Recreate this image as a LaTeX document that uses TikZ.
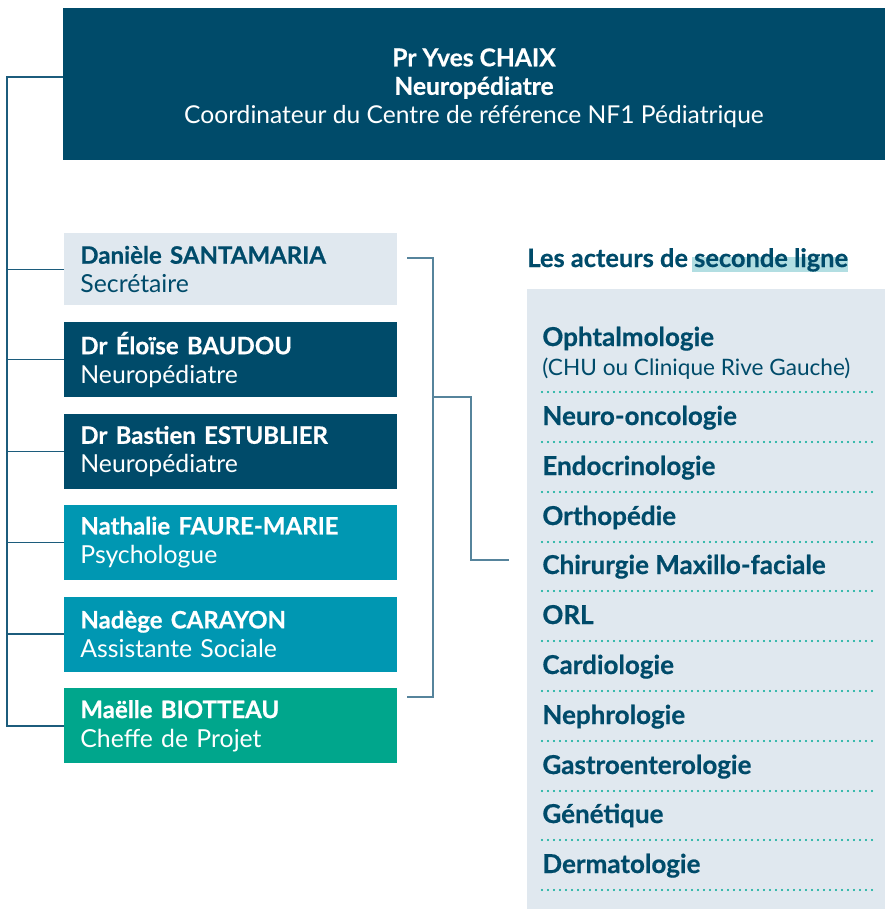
\documentclass[tikz,border=0pt]{standalone}
\usepackage{fontspec}
\setmainfont{Lato}[BoldFeatures={FakeBold=0.6}]
\usetikzlibrary{positioning}

\definecolor{navy}{RGB}{0,75,106}
\definecolor{pale}{RGB}{224,232,239}
\definecolor{teal}{RGB}{0,151,178}
\definecolor{jade}{RGB}{0,166,140}
\definecolor{trunkcol}{RGB}{28,92,124}
\definecolor{linkcol}{RGB}{86,132,156}
\definecolor{marker}{RGB}{178,222,226}
\definecolor{dotcol}{RGB}{0,170,150}

\newcommand{\who}[1]{{\fontsize{12}{14.5}\selectfont\bfseries #1}}

\tikzset{
  member/.style={rectangle, anchor=north west, minimum height=37.5pt, text width=150.5pt,
    inner xsep=8pt, inner ysep=0pt, align=left, text=white,
    font=\fontsize{12.4}{14.5}\selectfont},
  trunk/.style={draw=trunkcol, line width=0.75pt},
  link/.style={draw=linkcol, line width=0.75pt},
  item/.style={anchor=base west, inner sep=0pt, text=navy, font=\fontsize{13}{15}\selectfont\bfseries},
  sep/.style={draw=dotcol, line width=1.1pt, line cap=round, dash pattern=on 0pt off 3pt}
}

\begin{document}
\begin{tikzpicture}[x=0.5pt, y=-0.5pt]
\useasboundingbox (0,0) rectangle (885,909);

% coordinator
\node[rectangle, fill=navy, text=white, minimum width=411pt, minimum height=76pt, align=center,
  font=\fontsize{12.3}{14.25}\selectfont] (chaix) at (474,84)
  {\rule{0pt}{12.9pt}\textbf{Pr Yves CHAIX}\\ \textbf{Neuropédiatre}\\ Coordinateur du Centre de référence NF1 Pédiatrique};

% team
\node[member, fill=pale, text=navy, minimum height=36pt] (b1) at (64,233)
  {\who{Danièle SANTAMARIA}\\ Secrétaire};
\node[member, fill=navy, below=8pt of b1.south west, anchor=north west] (b2)
  {\who{Dr Éloïse BAUDOU}\\ Neuropédiatre};
\node[member, fill=navy, below=8pt of b2.south west, anchor=north west] (b3)
  {\who{Dr Bastien ESTUBLIER}\\ Neuropédiatre};
\node[member, fill=teal, below=7.5pt of b3.south west, anchor=north west] (b4)
  {\who{Nathalie FAURE-MARIE}\\ Psychologue};
\node[member, fill=teal, below=8pt of b4.south west, anchor=north west] (b5)
  {\who{Nadège CARAYON}\\ Assistante Sociale};
\node[member, fill=jade, below=8pt of b5.south west, anchor=north west] (b6)
  {\who{Maëlle BIOTTEAU}\\ Cheffe de Projet};

% left rail
\coordinate (rail) at (7,0);
\draw[trunk] ([yshift=3.5pt]chaix.west) -| (rail |- b6.west) -- (b6.west);
\foreach \i in {1,...,5}
  \draw[trunk] (b\i.west) -- (rail |- b\i.west);

% bracket to second line
\coordinate (brtop) at (407,258);
\coordinate (brbot) at (407,697);
\coordinate (brmid) at (433,397);
\coordinate (cin) at (509,560);
\draw[link] (brtop) -- ++(13pt,0) |- (brbot);
\draw[link] (brmid) -- ++(19pt,0) |- (cin);

% second line panel
\fill[pale] (527,289) rectangle (885,909);
\fill[marker] (692,257) rectangle (848,272);
\node[item, font=\fontsize{12.7}{15}\selectfont\bfseries] (head) at (527,267) {Les acteurs de seconde ligne};

\node[item] (oph) at (542,346) {Ophtalmologie};
\node[item, font=\fontsize{11.3}{13}\selectfont] (ophsub) at (542,375) {(CHU ou Clinique Rive Gauche)};
\draw[sep] (542,392) -- (876,392);

\foreach \y/\txt [count=\k] in {425/Neuro-oncologie, 475/Endocrinologie, 525/Orthopédie,
    574/Chirurgie Maxillo-faciale, 624/ORL, 674/Cardiologie, 724/Nephrologie,
    774/Gastroenterologie, 823/Génétique, 873/Dermatologie}{
  \node[item] (spec\k) at (542,\y) {\txt};
  \draw[sep] (542,\y+17) -- (876,\y+17);
}

\end{tikzpicture}
\end{document}
